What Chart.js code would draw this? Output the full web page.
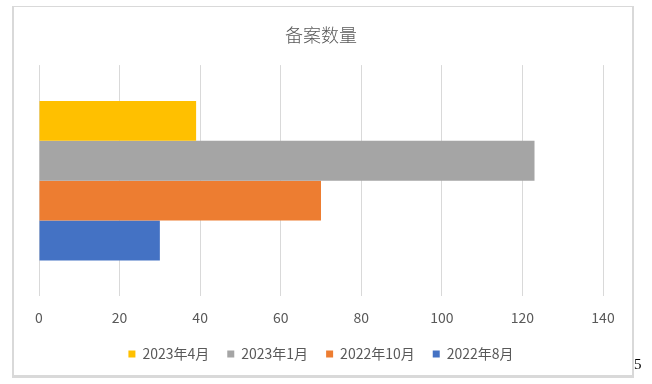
<!DOCTYPE html>
<html>
<head>
<meta charset="utf-8">
<script src="https://cdn.jsdelivr.net/npm/chart.js@4"></script>
<style>
  body { margin: 0; background: #fff; }
  #wrap { position: relative; width: 652px; height: 384px; }
  #frame { position: absolute; left: 12px; top: 6px; width: 618px; height: 368px;
           border: 2px solid #d9d9d9; border-top-width: 1px; border-bottom-width: 3px; }
  #pg { position: absolute; left: 634px; top: 356px; font: 15px "Liberation Serif", serif; color: #000; }
  canvas { position: absolute; left: 0; top: 0; }
</style>
</head>
<body>
<div id="wrap">
  <div id="frame"></div>
  <canvas id="c" width="652" height="384"></canvas>
  <div id="pg">5</div>
</div>
<script>
// 备案数量 by month
const categories = ["备案数量"];
const seriesNames = ["2023年4月", "2023年1月", "2022年10月", "2022年8月"];
const seriesValues = [39, 123, 70, 30];
const seriesColors = ["#FFC000", "#A5A5A5", "#ED7D31", "#4472C4"];
const xTicks = [0, 20, 40, 60, 80, 100, 120, 140];

const font = '"Noto Sans CJK SC", "Noto Sans", sans-serif';

// legend sits a bit closer to the axis labels than Chart.js puts it
const legendShift = {
  id: "legendShift",
  afterLayout(chart) {
    const lg = chart.legend;
    if (!lg) return;
    lg.top -= 10;
    lg.bottom -= 10;
  }
};

new Chart(document.getElementById("c"), {
  type: "bar",
  data: {
    labels: categories,
    datasets: seriesNames.map((name, i) => ({
      label: name,
      data: [seriesValues[i]],
      backgroundColor: seriesColors[i],
      barPercentage: 1,
      categoryPercentage: 0.69
    }))
  },
  options: {
    indexAxis: "y",
    responsive: false,
    animation: false,
    layout: { padding: { left: 39, right: 49, top: 24, bottom: 3 } },
    scales: {
      x: {
        min: xTicks[0],
        max: xTicks[xTicks.length - 1],
        ticks: { stepSize: 20, padding: 13, color: "#595959", font: { family: font, size: 14 } },
        grid: { color: "#d9d9d9", lineWidth: 1, drawTicks: false },
        border: { display: false }
      },
      y: { display: false }
    },
    plugins: {
      title: {
        display: true,
        text: "备案数量",
        color: "#595959",
        font: { family: font, size: 18, weight: 300 },
        padding: { top: 0, bottom: 19.5 }
      },
      legend: {
        position: "bottom",
        labels: {
          boxWidth: 7,
          boxHeight: 7,
          padding: 18,
          color: "#595959",
          font: { family: font, size: 14 }
        }
      },
      tooltip: { enabled: false }
    }
  },
  plugins: [legendShift]
});
</script>
</body>
</html>
